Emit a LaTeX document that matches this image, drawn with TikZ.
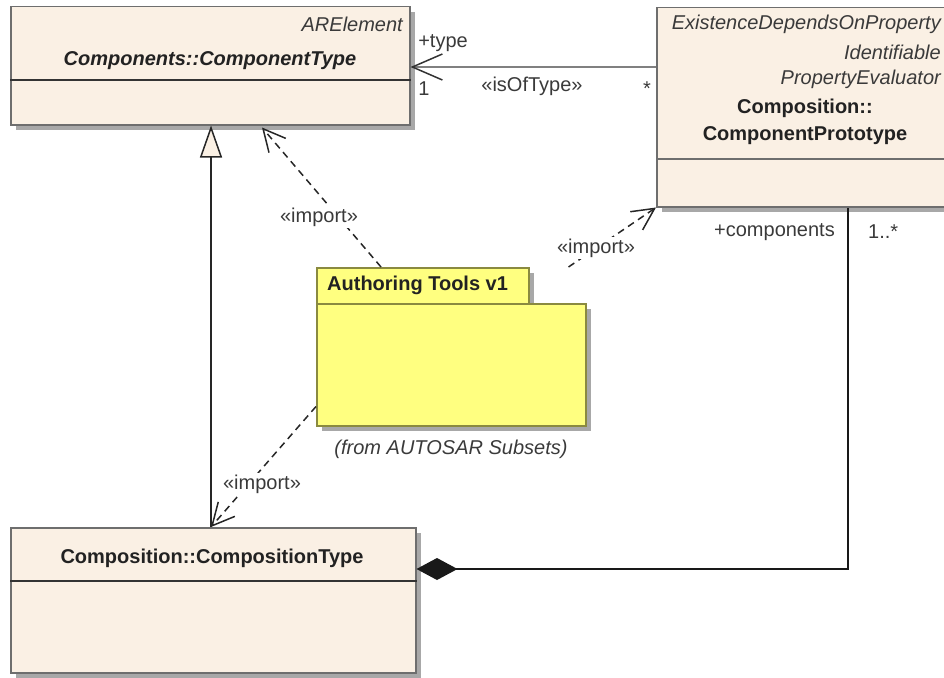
\documentclass[tikz,border=0pt]{standalone}
\usepackage{fontspec}
\setmainfont{Liberation Sans}
\usetikzlibrary{arrows.meta,calc,shadows}
\definecolor{cbfill}{HTML}{FAF0E4}
\definecolor{cbdraw}{HTML}{6E6E6E}
\definecolor{pkfill}{HTML}{FFFF80}
\definecolor{pkdraw}{HTML}{8A8A40}
\definecolor{txt}{HTML}{222222}
\definecolor{lblc}{HTML}{3A3A3A}
\definecolor{shd}{HTML}{A8A8A8}
\begin{document}
\begin{tikzpicture}[x=1pt,y=-1pt,
  font=\fontsize{20}{24}\selectfont,
  classbox/.style={draw=cbdraw, fill=cbfill, line width=1.5pt, inner sep=0pt, anchor=north west,
    drop shadow={shadow xshift=5pt, shadow yshift=-5pt, fill=shd, opacity=1}},
  pkbox/.style={draw=pkdraw, fill=pkfill, line width=1.5pt, inner sep=0pt, anchor=north west,
    drop shadow={shadow xshift=5pt, shadow yshift=-5pt, fill=shd, opacity=1}},
  divider/.style={draw=black!80, line width=1.5pt},
  cname/.style={text=txt, font=\fontsize{20}{24}\selectfont\bfseries, inner sep=0pt},
  aname/.style={text=txt, font=\fontsize{20}{24}\selectfont\bfseries\itshape, inner sep=0pt},
  iname/.style={text=lblc, font=\fontsize{20}{24}\selectfont\itshape, inner sep=0pt},
  lbl/.style={text=lblc, inner sep=0pt},
  implbl/.style={text=lblc, inner sep=2pt, fill=white},
  imp/.style={draw=black!85, line width=1.5pt, dash pattern=on 7pt off 5pt,
    -{Straight Barb[length=22pt,width=22pt]}},
  assoc/.style={draw=black!50, line width=2pt,
    -{Straight Barb[length=30pt,width=26pt,color=black!80,line width=1.5pt]}},
  gen/.style={draw=black!85, line width=1.5pt,
    -{Triangle[length=32pt,width=22pt,fill=cbfill]}},
  compo/.style={draw=black!90, line width=1.5pt,
    {Diamond[length=41pt,width=22pt]}-}
]
\useasboundingbox (0,0) rectangle (944,677);
\clip (0,0) rectangle (944,677);

% Components::ComponentType
\node[classbox, minimum width=399pt, minimum height=118pt] (ct) at (10,6) {};
\draw[divider] (ct.west |- 0,80) -- (ct.east |- 0,80);
\node[iname, anchor=east] (ctst) at (403,24) {ARElement};
\node[aname] (ctname) at (210,61) {Components::ComponentType};

% Composition::ComponentPrototype
\node[classbox, minimum width=298pt, minimum height=199pt] (cp) at (656,7) {};
\draw[divider, draw=cbdraw] (cp.west |- 0,159) -- (cp.east |- 0,159);
\node[iname, anchor=east] (cps1) at (941,24) {ExistenceDependsOnProperty};
\node[iname, anchor=east] (cps2) at (941,52) {Identifiable};
\node[iname, anchor=east] (cps3) at (941,79) {PropertyEvaluator};
\node[cname] (cpn1) at (805,108) {Composition::};
\node[cname] (cpn2) at (805,136) {ComponentPrototype};

% Composition::CompositionType
\node[classbox, minimum width=405pt, minimum height=145pt] (comp) at (10,527) {};
\draw[divider] (comp.west |- 0,581) -- (comp.east |- 0,581);
\node[cname] (compn) at (212,558) {Composition::CompositionType};

% Package
\node[pkbox, minimum width=212pt, minimum height=36pt] (tab) at (316,267) {};
\node[pkbox, minimum width=269pt, minimum height=122pt] (body) at (316,303) {};
\node[cname, anchor=west] (pkname) at (327,285) {Authoring Tools v1};
\node[iname] (pkfrom) at (451,449) {(from AUTOSAR Subsets)};

% association
\draw[assoc] (cp.west |- 0,67) -- (ct.east |- 0,67);
\node[lbl] (ltype) at (443,43) {+type};
\node[lbl] (lone) at (424,89) {1};
\node[lbl] (lisof) at (532,86) {«isOfType»};
\node[lbl] (lstar) at (647,89) {*};

% generalization
\draw[gen] (comp.north -| 211,0) -- (ct.south -| 211,0);

% imports
\coordinate (i1s) at ($(tab.north west)+(65,0)$);
\coordinate (i1e) at ($(ct.south west)+(252,2)$);
\draw[imp] (i1s) -- (i1e);
\node[implbl] (limp1) at (319,217) {«import»};

\coordinate (i2s) at ($(tab.north east)+(39,0)$);
\draw[imp] (i2s) -- (cp.south west);
\node[implbl] (limp2) at (596,248) {«import»};

\coordinate (i3s) at ($(body.south west)+(0,-20)$);
\draw[imp] (i3s) -- (comp.north -| 211,0);
\node[implbl] (limp3) at (262,484) {«import»};

% composition
\coordinate (cpdown) at ($(cp.south west)+(192,0)$);
\draw[compo] ($(comp.north east)+(0,42)$) -| (cpdown);
\node[lbl, anchor=east] (lcomps) at (835,232) {+components};
\node[lbl, anchor=west] (lmult) at (868,232) {1..*};
\end{tikzpicture}
\end{document}
